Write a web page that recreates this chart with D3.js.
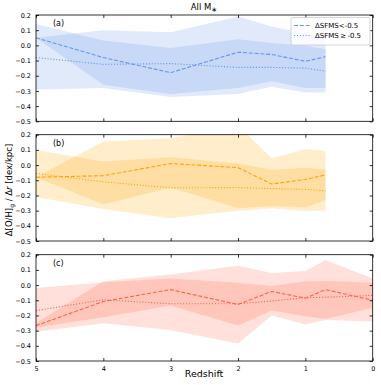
<!DOCTYPE html>
<html>
<head>
<meta charset="utf-8">
<script src="https://cdn.jsdelivr.net/npm/d3@7"></script>
<style>
  body { margin: 0; background: #fff; }
  text { font-family: "DejaVu Sans", sans-serif; fill: #000; }
</style>
</head>
<body>
<div id="chart"></div>
<script>
// redshift sample points
const zAB = [5, 4, 3, 2, 1.5, 1, 0.7]
const zC = [5, 4, 3, 2, 1.5, 1, 0.7, 0]

// panel (a) - blue
const aLowMed = [0.05, -0.08, -0.18, -0.045, -0.06, -0.105, -0.075]
const aLowLo = [0.05, -0.26, -0.32, -0.28, -0.236, -0.28, -0.28]
const aLowHi = [0.05, 0.10, 0.087, 0.19, 0.124, 0.08, 0.07]
const aHighMed = [-0.08, -0.125, -0.12, -0.145, -0.145, -0.15, -0.17]
const aHighLo = [-0.29, -0.28, -0.34, -0.32, -0.273, -0.31, -0.31]
const aHighHi = [0.14, 0.032, -0.018, 0.04, 0.015, -0.003, -0.025]

// panel (b) - orange
const bLowMed = [-0.08, -0.07, 0.01, -0.017, -0.125, -0.095, -0.065]
const bLowLo = [-0.08, -0.26, -0.147, -0.285, -0.27, -0.28, -0.23]
const bLowHi = [-0.08, 0.155, 0.176, 0.26, 0.045, 0.105, 0.095]
const bHighMed = [-0.055, -0.11, -0.15, -0.148, -0.155, -0.16, -0.17]
const bHighLo = [-0.21, -0.29, -0.35, -0.3, -0.285, -0.3, -0.3]
const bHighHi = [0.10, 0.023, 0.052, 0.01, -0.03, -0.017, -0.03]

// panel (c) - red
const cLowMed = [-0.267, -0.108, -0.03, -0.128, -0.042, -0.086, -0.03, -0.1]
const cLowLo = [-0.28, -0.212, -0.135, -0.267, -0.168, -0.205, -0.223, -0.15]
const cLowHi = [-0.25, 0.025, 0.07, 0.127, 0.08, 0.092, 0.165, 0.043]
const cHighMed = [-0.168, -0.097, -0.123, -0.123, -0.105, -0.083, -0.08, -0.068]
const cHighLo = [-0.307, -0.252, -0.296, -0.385, -0.2, -0.26, -0.23, -0.24]
const cHighHi = [-0.02, 0.018, 0.043, 0.016, -0.006, 0.025, 0.027, 0.016]

const yTicks = [0.2, 0.1, 0.0, -0.1, -0.2, -0.3, -0.4, -0.5]
const xTicks = [5, 4, 3, 2, 1, 0]
const panelNames = ["(a)", "(b)", "(c)"]
const legendNames = ["\u0394SFMS<-0.5", "\u0394SFMS\u2009\u2265\u2009-0.5"]

buildChart()

function buildChart() {
    let svg = d3.select("#chart")
                .append("svg")
                    .attr("width", 381)
                    .attr("height", 385)

    let left = 36, right = 372.7
    let tops = [15, 134.7, 254.7]
    let ph = 106.3

    let x = d3.scaleLinear().domain([5, 0]).range([left, right])

    let panels = [
        {z: zAB, color: "#6495ED", low: [aLowMed, aLowLo, aLowHi], high: [aHighMed, aHighLo, aHighHi]},
        {z: zAB, color: "#FFA500", low: [bLowMed, bLowLo, bLowHi], high: [bHighMed, bHighLo, bHighHi]},
        {z: zC, color: "#FF6347", low: [cLowMed, cLowLo, cLowHi], high: [cHighMed, cHighLo, cHighHi]}
    ]

    panels.forEach(function(p, i) {
        let top = tops[i]
        let y = d3.scaleLinear().domain([-0.5, 0.2]).range([top + ph, top])
        let g = svg.append("g")

        let clipId = "clip" + i
        svg.append("clipPath").attr("id", clipId)
            .append("rect").attr("x", left).attr("y", top).attr("width", right - left).attr("height", ph)

        let area = (lo, hi) => d3.area()
                        .x((d, k) => x(p.z[k]))
                        .y0((d, k) => y(lo[k]))
                        .y1((d, k) => y(hi[k]))(p.z)
        let line = vals => d3.line()
                        .x((d, k) => x(p.z[k]))
                        .y((d, k) => y(vals[k]))(p.z)

        let plot = g.append("g").attr("clip-path", `url(#${clipId})`)
        plot.append("path").attr("d", area(p.low[1], p.low[2]))
            .attr("fill", p.color).attr("fill-opacity", 0.2)
        plot.append("path").attr("d", area(p.high[1], p.high[2]))
            .attr("fill", p.color).attr("fill-opacity", 0.2)
        plot.append("path").attr("d", line(p.low[0]))
            .attr("fill", "none").attr("stroke", p.color).attr("stroke-width", 1.1)
            .attr("stroke-dasharray", "4,1.8")
        plot.append("path").attr("d", line(p.high[0]))
            .attr("fill", "none").attr("stroke", p.color).attr("stroke-width", 1.1)
            .attr("stroke-dasharray", "1.1,1.8")

        // axes, ticks inward on all sides
        let yl = g.append("g").attr("transform", `translate(${left},0)`)
                    .call(d3.axisLeft(y).tickValues(yTicks).tickSize(-3).tickPadding(5)
                        .tickFormat(d => d3.format(".1f")(d).replace("-", "\u2212")))
        let yr = g.append("g").attr("transform", `translate(${right},0)`)
                    .call(d3.axisRight(y).tickValues(yTicks).tickSize(-3).tickFormat(""))
        let xb = g.append("g").attr("transform", `translate(0,${top + ph})`)
                    .call(d3.axisBottom(x).tickValues(xTicks).tickSize(-3).tickPadding(5)
                        .tickFormat(i == 2 ? d3.format("d") : ""))
        let xt = g.append("g").attr("transform", `translate(0,${top})`)
                    .call(d3.axisTop(x).tickValues(xTicks).tickSize(-3).tickFormat(""))
        ;[yl, yr, xb, xt].forEach(a => {
            a.select(".domain").remove()
            a.selectAll("line").attr("stroke", "#000").attr("stroke-width", 0.8)
            a.selectAll("text").style("font-family", "'DejaVu Sans', sans-serif").style("font-size", "6.5px")
        })
        g.append("rect").attr("x", left).attr("y", top).attr("width", right - left).attr("height", ph)
            .attr("fill", "none").attr("stroke", "#000").attr("stroke-width", 0.8)

        g.append("text").attr("x", left + 17).attr("y", top + 11)
            .style("font-size", "8px").text(panelNames[i])
    })

    // title
    let title = svg.append("text").attr("x", 204).attr("y", 10).attr("text-anchor", "middle")
                    .style("font-size", "8.5px")
    title.append("tspan").text("All M")
    title.append("tspan").attr("dy", 1.5).style("font-size", "7px").text("\u2217")

    // x label
    svg.append("text").attr("x", 204).attr("y", 377).attr("text-anchor", "middle")
        .style("font-size", "9.5px").text("Redshift")

    // y label
    let ylab = svg.append("text").attr("transform", "translate(12,190) rotate(-90)")
                    .attr("text-anchor", "middle").style("font-size", "8.5px")
    ylab.append("tspan").text("\u0394[O/H]")
    ylab.append("tspan").attr("dy", 2).style("font-size", "6px").text("g")
    ylab.append("tspan").attr("dy", -2).text(" / \u0394")
    ylab.append("tspan").style("font-style", "italic").text("r")
    ylab.append("tspan").text(" [dex/kpc]")

    // legend
    let lg = svg.append("g")
    lg.append("rect").attr("x", 291).attr("y", 17.5).attr("width", 79).attr("height", 27.5)
        .attr("rx", 2).attr("fill", "#fff").attr("fill-opacity", 0.8)
        .attr("stroke", "#ccc").attr("stroke-width", 0.8)
    ;["4,1.8", "1.1,1.8"].forEach(function(dash, k) {
        let ly = 25.5 + k * 10
        lg.append("line").attr("x1", 294).attr("x2", 310).attr("y1", ly).attr("y2", ly)
            .attr("stroke", "#6495ED").attr("stroke-width", 1.1).attr("stroke-dasharray", dash)
        lg.append("text").attr("x", 315).attr("y", ly + 2.5).style("font-size", "7px").text(legendNames[k])
    })
}
</script>
</body>
</html>
